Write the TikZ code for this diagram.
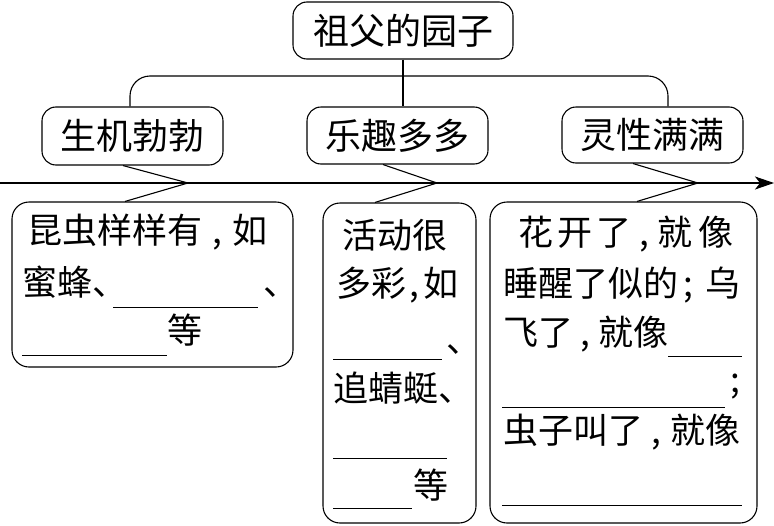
\documentclass[tikz,border=0pt]{standalone}
\usepackage{fontspec}
\setmainfont{Noto Sans CJK SC}
\usetikzlibrary{arrows.meta,calc}
\newcommand\cma[1]{\makebox[#1][c]{,}}
\newcommand\smc[1]{\makebox[#1][l]{\hspace{5pt};}}
\begin{document}
\begin{tikzpicture}[x=1pt,y=-1pt,
  box/.style={draw, line width=1.1pt, rounded corners=14pt, inner sep=0pt},
  lbox/.style={draw, line width=1.1pt, rounded corners=17pt, inner sep=0pt},
  head/.style={font=\fontsize{36}{40}\selectfont},
  txt/.style={anchor=base west, inner sep=0pt, font=\fontsize{35}{40}\selectfont},
  uline/.style={line width=0.8pt},
  conn/.style={line width=1.1pt}]
\useasboundingbox (0,0) rectangle (774,525);
% top and second level
\node[box, head, minimum width=220pt, minimum height=57pt] (top) at (403,30.5) {祖父的园子};
\node[box, head, minimum width=181pt, minimum height=58pt] (g1) at (132.5,136) {生机勃勃};
\node[box, head, minimum width=181pt, minimum height=57pt] (g2) at (397.5,135.5) {乐趣多多};
\node[box, head, minimum width=181pt, minimum height=56pt] (g3) at (652.5,135) {灵性满满};
% lower boxes
\node[lbox, minimum width=281pt, minimum height=165pt] (l1) at (152.5,284.5) {};
\node[lbox, minimum width=153pt, minimum height=320pt] (l2) at (399.5,363) {};
\node[lbox, minimum width=267pt, minimum height=321pt] (l3) at (623.5,362.5) {};
% tree connectors
\coordinate (hb) at (403,76);
\draw[conn] (top.south) -- (g2.north -| top.south);
\draw[conn, rounded corners=20pt] ([xshift=-2.5pt]g1.north) |- (hb) -| ([xshift=15.5pt]g3.north);
% main arrow
\coordinate (as) at (0,183);
\coordinate (ae) at (774,183);
\draw[conn, -{Stealth[length=19pt,width=13pt,inset=5pt]}] (as) -- (ae);
% zigzags
\coordinate (z1) at (188,183);
\coordinate (z2) at (437,183);
\coordinate (z3) at (698,183);
\draw[conn] ([xshift=-9.5pt]g1.south) -- (z1) -- ([xshift=-27.5pt]l1.north);
\draw[conn] ([xshift=-14.5pt]g2.south) -- (z2) -- ([xshift=-24.5pt]l2.north);
\draw[conn] ([xshift=-19.5pt]g3.south) -- (z3) -- ([xshift=13.5pt]l3.north);
% left box text
\node[txt] (t11) at (27,243) {昆虫样样有\cma{30pt}如};
\node[txt] (t12) at (22,295) {蜜蜂、};
\draw[uline] (113,307) -- (258,307);
\node[txt] (t13) at (263,295) {、};
\draw[uline] (22,355) -- (167,355);
\node[txt] (t14) at (167,343) {等};
% middle box text
\node[txt] (t21) at (342,248) {活动很};
\node[txt] (t22) at (336,296) {多彩\cma{17pt}如};
\node[txt] (t23) at (446,352) {、};
\draw[uline] (333,359) -- (442,359);
\node[txt] (t24) at (333,401) {追蜻蜓、};
\draw[uline] (333,458) -- (447,458);
\node[txt] (t25) at (413,498) {等};
\draw[uline] (333,508) -- (412,508);
% right box text
\node[txt] (t31) at (518,245) {花\hspace{4pt}开\hspace{4pt}了\cma{26pt}就\hspace{6pt}像};
\node[txt] (t32) at (503,296) {睡醒了似的\smc{27pt}乌};
\node[txt] (t33) at (503,345) {飞了\cma{25pt}就像};
\draw[uline] (668,356) -- (742,356);
\node[txt, anchor=base] (t34) at (735,392) {;};
\draw[uline] (502,407) -- (725,407);
\node[txt] (t35) at (503,443) {虫子叫了\cma{27pt}就像};
\draw[uline] (502,505) -- (742,505);
\end{tikzpicture}
\end{document}
